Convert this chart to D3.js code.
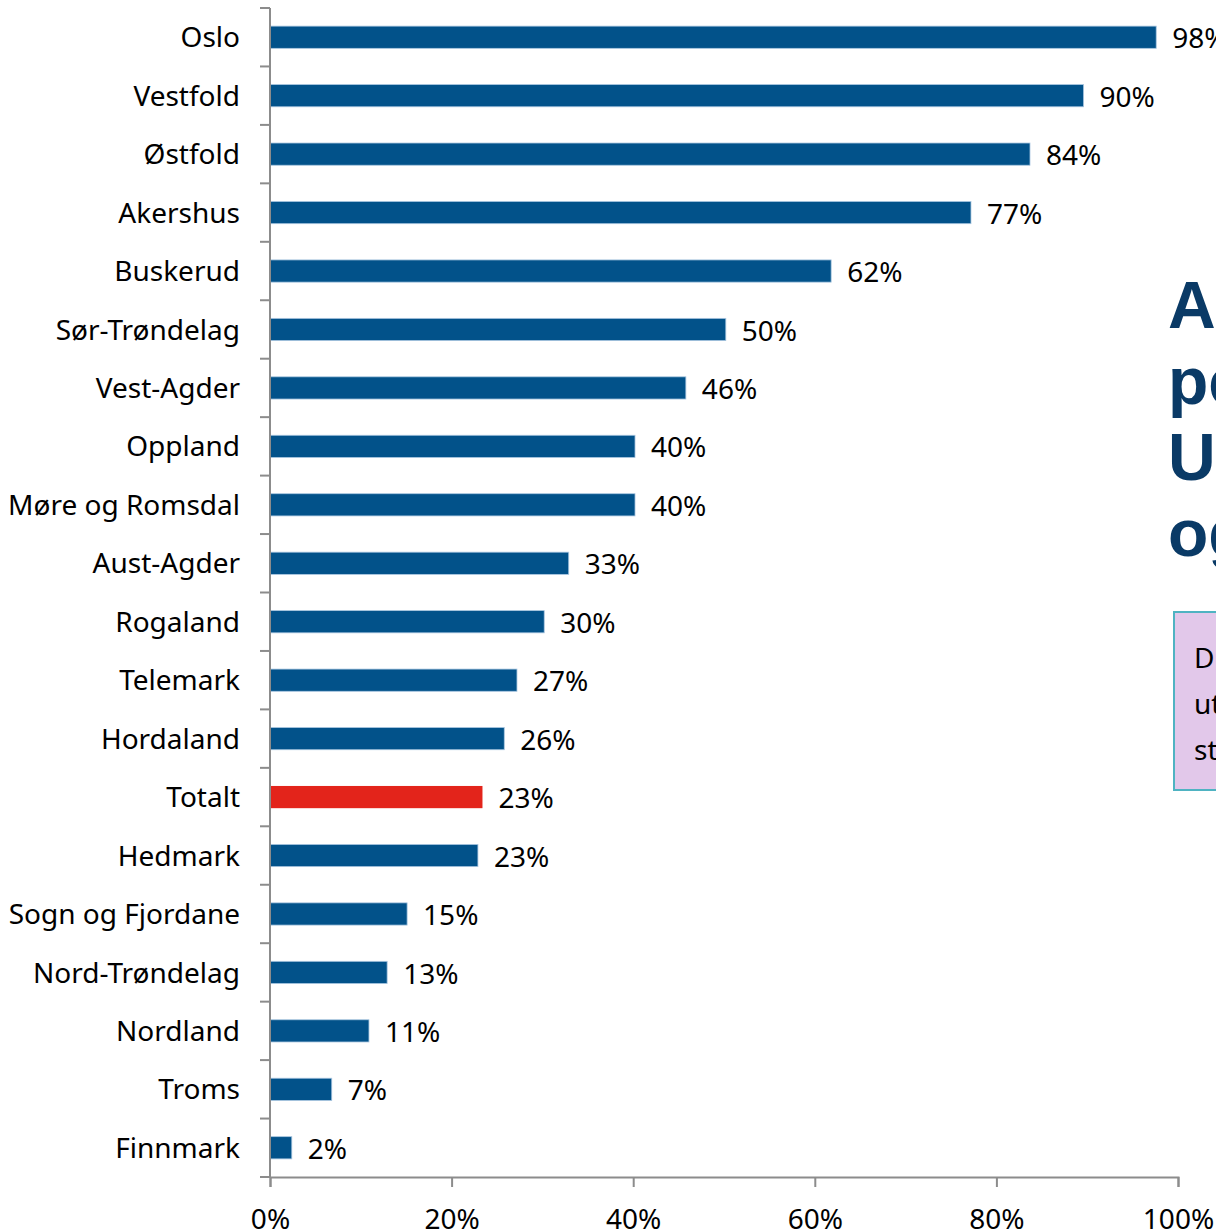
<!DOCTYPE html>
<html>
<head>
<meta charset="utf-8">
<script src="https://cdn.jsdelivr.net/npm/d3@7"></script>
<style>
  html, body { margin: 0; padding: 0; background: #fff; overflow: hidden; }
  svg { display: block; }
</style>
</head>
<body>
<svg id="chart"></svg>
<script>
// Chart data
const regions = ["Oslo", "Vestfold", "Østfold", "Akershus", "Buskerud", "Sør-Trøndelag",
    "Vest-Agder", "Oppland", "Møre og Romsdal", "Aust-Agder", "Rogaland", "Telemark",
    "Hordaland", "Totalt", "Hedmark", "Sogn og Fjordane", "Nord-Trøndelag", "Nordland",
    "Troms", "Finnmark"];
const shares = [97.6, 89.6, 83.7, 77.2, 61.8, 50.2, 45.8, 40.2, 40.2, 32.9, 30.2, 27.2,
    25.8, 23.4, 22.9, 15.1, 12.9, 10.9, 6.8, 2.4];
const xTicks = [0, 20, 40, 60, 80, 100];
const titleLines = ["Andel", "personer", "Utredning", "og behandling"];
const noteLines = ["Diagnostikk", "utført ved", "studier"];

const width = 1216, height = 1230;
const margin = {left: 270, top: 8, right: 38, bottom: 53};
const font = "'Noto Sans', 'Open Sans', sans-serif";

const svg = d3.select("#chart")
    .attr("width", width)
    .attr("height", height)
    .style("font-family", font);

const data = regions.map((r, i) => ({region: r, value: shares[i]}));

// Scales
const x = d3.scaleLinear()
    .domain([0, 100])
    .range([margin.left, width - margin.right]);

const y = d3.scaleBand()
    .domain(regions)
    .range([margin.top, height - margin.bottom])
    .paddingInner(0.62)
    .paddingOuter(0.31);

// Bars
svg.append("g")
    .selectAll("rect")
    .data(data)
    .enter()
    .append("rect")
    .attr("x", x(0))
    .attr("y", d => y(d.region))
    .attr("width", d => x(d.value) - x(0))
    .attr("height", y.bandwidth())
    .attr("fill", d => d.region === "Totalt" ? "#e3241b" : "#02528a")
    .attr("stroke", d => d.region === "Totalt" ? "none" : "#a9c6e0")
    .attr("stroke-width", 0.8);

// Value labels
svg.append("g")
    .selectAll("text")
    .data(data)
    .enter()
    .append("text")
    .attr("x", d => x(d.value) + 16)
    .attr("y", d => y(d.region) + y.bandwidth() / 2 + 1)
    .attr("dy", "0.36em")
    .attr("font-size", 28)
    .attr("fill", "#000")
    .text(d => Math.round(d.value) + "%");

// Category labels
svg.append("g")
    .selectAll("text")
    .data(data)
    .enter()
    .append("text")
    .attr("x", margin.left - 30)
    .attr("y", d => y(d.region) + y.bandwidth() / 2)
    .attr("dy", "0.36em")
    .attr("text-anchor", "end")
    .attr("font-size", 28)
    .attr("fill", "#000")
    .text(d => d.region);

// Y axis with ticks between categories
const step = y.step();
const yStart = y.range()[0];
const axisColor = "#8c8c8c";
const yAxis = svg.append("g");
yAxis.append("line")
    .attr("x1", x(0)).attr("x2", x(0))
    .attr("y1", yStart).attr("y2", height - margin.bottom)
    .attr("stroke", axisColor).attr("stroke-width", 2);
yAxis.selectAll("line.tick")
    .data(d3.range(regions.length + 1))
    .enter()
    .append("line")
    .attr("class", "tick")
    .attr("x1", x(0) - 10).attr("x2", x(0))
    .attr("y1", i => yStart + i * step)
    .attr("y2", i => yStart + i * step)
    .attr("stroke", axisColor).attr("stroke-width", 2);

// X axis
const xAxis = svg.append("g")
    .attr("transform", `translate(0,${height - margin.bottom})`)
    .call(d3.axisBottom(x)
        .tickValues(xTicks)
        .tickSize(10)
        .tickPadding(22)
        .tickFormat(d => d + "%"));
xAxis.select(".domain").attr("stroke", axisColor).attr("stroke-width", 2);
xAxis.selectAll(".tick line").attr("stroke", axisColor).attr("stroke-width", 2);
xAxis.selectAll(".tick text")
    .attr("font-family", font)
    .attr("font-size", 28)
    .attr("fill", "#000");

// Title on the right, cut off by the page edge
svg.append("g")
    .selectAll("text")
    .data(titleLines)
    .enter()
    .append("text")
    .attr("x", 1168)
    .attr("y", (d, i) => 328 + i * 76)
    .attr("font-family", "'Liberation Sans', Arial, sans-serif")
    .attr("font-weight", "bold")
    .attr("font-size", 66)
    .attr("fill", "#0a3a66")
    .text(d => d);

// Note box
const note = svg.append("g");
note.append("rect")
    .attr("x", 1174)
    .attr("y", 612)
    .attr("width", 200)
    .attr("height", 178)
    .attr("fill", "#e2c8ea")
    .attr("stroke", "#4fb3c2")
    .attr("stroke-width", 2);
note.selectAll("text")
    .data(noteLines)
    .enter()
    .append("text")
    .attr("x", 1194)
    .attr("y", (d, i) => 668 + i * 46)
    .attr("font-size", 28)
    .attr("fill", "#000")
    .text(d => d);
</script>
</body>
</html>
